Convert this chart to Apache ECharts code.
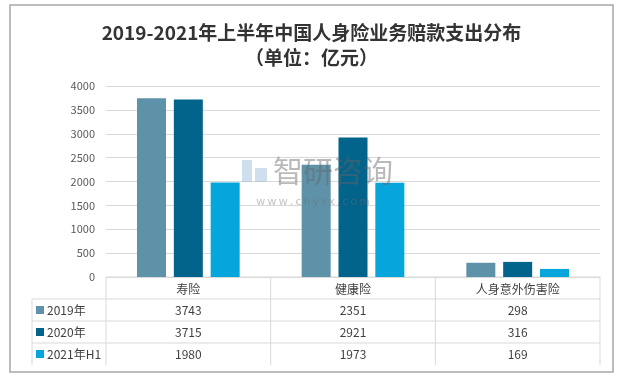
<!DOCTYPE html>
<html>
<head>
<meta charset="utf-8">
<script src="https://cdn.jsdelivr.net/npm/echarts@6/dist/echarts.min.js"></script>
<style>
  html, body { margin: 0; padding: 0; background: #fff; }
  #chart { width: 623px; height: 377px; }
</style>
</head>
<body>
<div id="chart"></div>
<script>
// 数据
const categories = ['寿险', '健康险', '人身意外伤害险']
const seriesNames = ['2019年', '2020年', '2021年H1']
const data2019 = [3743, 2351, 298]
const data2020 = [3715, 2921, 316]
const data2021 = [1980, 1973, 169]
const yTicks = [0, 500, 1000, 1500, 2000, 2500, 3000, 3500, 4000]

const colors = ['#5e92a9', '#02638b', '#06a6dc']
const allData = [data2019, data2020, data2021]
const font = '"Noto Sans CJK SC", "Noto Sans", sans-serif'

const chart = echarts.init(document.getElementById('chart'))

const option = {
  animation: false,
  textStyle: { fontFamily: font },
  title: {
    text: '2019-2021年上半年中国人身险业务赔款支出分布',
    subtext: '（单位：亿元）',
    left: 'center',
    top: 18,
    itemGap: 6,
    textStyle: { fontSize: 19, fontWeight: 'bold', color: '#333', fontFamily: font },
    subtextStyle: { fontSize: 19, fontWeight: 'bold', color: '#333', fontFamily: font }
  },
  grid: { left: 106, right: 23, top: 86, bottom: 100 },
  xAxis: {
    type: 'category',
    data: categories,
    axisLine: { show: false },
    axisTick: { show: false },
    axisLabel: { color: '#404040', fontSize: 12, margin: 6 }
  },
  yAxis: {
    type: 'value',
    min: yTicks[0],
    max: yTicks[yTicks.length - 1],
    interval: 500,
    axisLine: { show: false },
    axisTick: { show: false },
    axisLabel: { color: '#595959', fontSize: 11, margin: 11, formatter: v => String(v) },
    splitLine: { lineStyle: { color: '#d9d9d9' } }
  },
  series: seriesNames.map((name, i) => ({
    name,
    type: 'bar',
    data: allData[i],
    barWidth: 29,
    barGap: '27%',
    itemStyle: { color: colors[i] }
  }))
}

chart.setOption(option)

// 数据表 + 水印
const buildTable = () => {
  const grid = chart.getModel().getComponent('grid').coordinateSystem.getRect()
  const x0 = grid.x
  const x1 = grid.x + grid.width
  const yTop = grid.y + grid.height
  const rowH = 22
  const legendLeft = 32
  const lineColor = '#d9d9d9'
  const catW = grid.width / categories.length
  const els = []

  const line = (xa, ya, xb, yb) => els.push({
    type: 'line',
    shape: { x1: xa, y1: ya, x2: xb, y2: yb },
    style: { stroke: lineColor, lineWidth: 1 },
    silent: true
  })

  // 横线
  line(x0, yTop, x1, yTop)
  for (let r = 1; r <= seriesNames.length; r++) {
    line(legendLeft, yTop + rowH * r, x1, yTop + rowH * r)
  }
  // 竖线
  for (let c = 0; c <= categories.length; c++) {
    line(x0 + catW * c, yTop, x0 + catW * c, yTop + rowH * (seriesNames.length + 1))
  }
  line(legendLeft, yTop + rowH, legendLeft, yTop + rowH * (seriesNames.length + 1))

  seriesNames.forEach((name, r) => {
    const cy = yTop + rowH * (r + 1) + rowH / 2
    els.push({
      type: 'rect',
      shape: { x: legendLeft + 4, y: cy - 4, width: 8, height: 8 },
      style: { fill: colors[r] },
      silent: true
    })
    els.push({
      type: 'text',
      x: legendLeft + 15, y: cy,
      style: { text: name, fill: '#404040', font: '12px ' + font, textVerticalAlign: 'middle' },
      silent: true
    })
    allData[r].forEach((v, c) => {
      const cx = chart.convertToPixel({ xAxisIndex: 0 }, categories[c])
      els.push({
        type: 'text',
        x: cx, y: cy,
        style: { text: String(v), fill: '#404040', font: '12px ' + font, textAlign: 'center', textVerticalAlign: 'middle' },
        silent: true
      })
    })
  })

  // 外框
  els.push({
    type: 'rect',
    shape: { x: 10, y: 5, width: 603, height: 367 },
    style: { fill: 'none', stroke: '#a6a6a6', lineWidth: 1.5 },
    silent: true
  })

  // 水印（盖在柱子上方）
  els.push({
    type: 'rect', z: 100,
    shape: { x: 242, y: 160, width: 10, height: 22 },
    style: { fill: 'rgba(150,185,215,0.45)' },
    silent: true
  })
  els.push({
    type: 'rect', z: 100,
    shape: { x: 255, y: 168, width: 12, height: 14 },
    style: { fill: 'rgba(150,185,215,0.45)' },
    silent: true
  })
  els.push({
    type: 'text', x: 273, y: 171, z: 100,
    style: { text: '智研咨询', fill: 'rgba(100,100,100,0.45)', font: '30px ' + font, textVerticalAlign: 'middle' },
    silent: true
  })
  els.push({
    type: 'text', x: 313, y: 201, z: 100,
    style: { text: 'w w w . c h y x x . c o m', fill: 'rgba(110,110,110,0.45)', font: '11px ' + font, textAlign: 'center', textVerticalAlign: 'middle' },
    silent: true
  })

  chart.setOption({ graphic: els })
}

buildTable()
</script>
</body>
</html>
